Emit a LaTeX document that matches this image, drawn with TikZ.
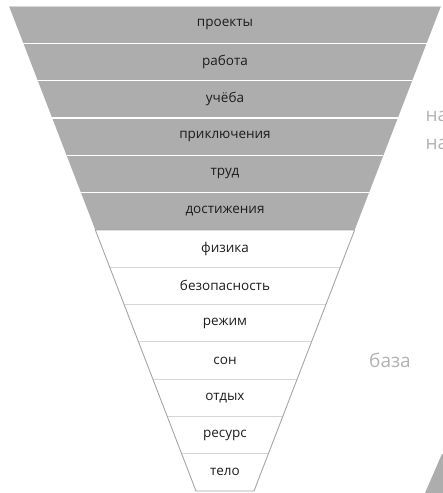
\documentclass[tikz,border=0pt]{standalone}
\usepackage{fontspec}
\setmainfont{Open Sans}
\usetikzlibrary{positioning}
\definecolor{BandGrey}{RGB}{173,173,173}
\definecolor{EdgeGrey}{RGB}{165,165,165}
\definecolor{LineLight}{RGB}{214,214,214}
\definecolor{SideText}{RGB}{178,178,178}
\definecolor{BandText}{RGB}{28,28,28}

\begin{document}
\begin{tikzpicture}[x=1pt,y=-1pt,
    lbl/.style={font=\fontsize{13.5}{15}\selectfont,text=BandText},
    side/.style={font=\fontsize{19}{21}\selectfont,text=SideText},
    sep/.style={white,line width=1.4pt},
    thin/.style={LineLight,line width=0.9pt}
  ]
  \useasboundingbox (0,0) rectangle (443,493);
  \clip (0,0) rectangle (443,493);
  \def\rh{37.31}
  \def\dx{14.385}
  % upper grey bands
  \fill[BandGrey] (9,6) -- (441,6) -- ({441-6*\dx},{6+6*\rh})
    -- ({9+6*\dx},{6+6*\rh}) -- cycle;
  \draw[thin] (9,6.3) -- (441,6.3);
  \foreach \i in {1,...,5}
    \draw[sep] ({9+\i*\dx},{6+\i*\rh}) -- ({441-\i*\dx},{6+\i*\rh});
  % lower white bands
  \foreach \i in {7,...,12}
    \draw[thin] ({9+\i*\dx},{6+\i*\rh}) -- ({441-\i*\dx},{6+\i*\rh});
  \draw[EdgeGrey,line width=0.9pt] ({441-6*\dx},{6+6*\rh}) -- ({9+6*\dx},{6+6*\rh})
    -- ({9+13*\dx},{6+13*\rh}) -- ({441-13*\dx},{6+13*\rh})
    -- ({441-6*\dx},{6+6*\rh});
  % labels
  \foreach \t [count=\i] in {проекты,работа,учёба,приключения,труд,достижения,
      физика,безопасность,режим,сон,отдых,ресурс,тело}
    \node[lbl] (r\i) at (225,{6+(\i-0.5)*\rh}) {\t};
  % side texts
  \node[side,anchor=west] (na1) at (422,116) {на};
  \node[side,anchor=west] (na2) at (422,144) {на};
  \node[side] (base) at (390,360) {база};
  % next pyramid, cut off
  \fill[BandGrey] (448,440) -- (425,493) -- (450,493) -- (450,440) -- cycle;
  \draw[sep] (435,453) -- (450,453);
\end{tikzpicture}
\end{document}
